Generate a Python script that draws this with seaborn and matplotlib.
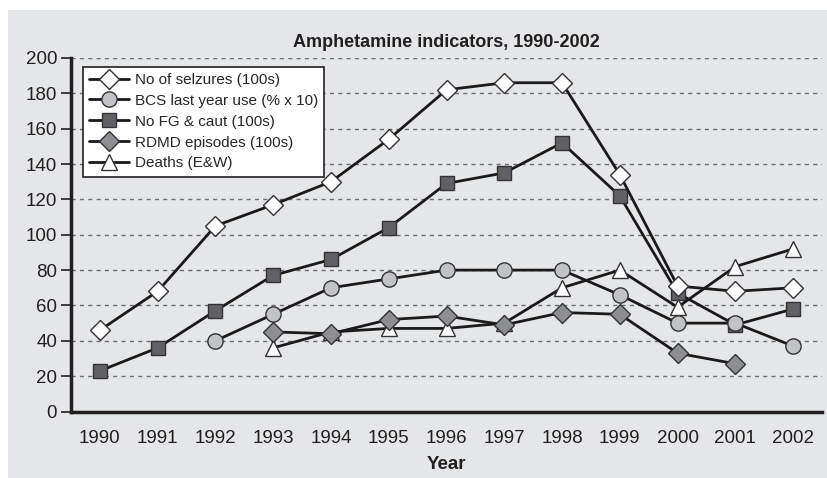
import numpy as np
import pandas as pd
import matplotlib
matplotlib.use("Agg")
import matplotlib.pyplot as plt
import seaborn as sns

years = ["1990", "1991", "1992", "1993", "1994", "1995", "1996",
         "1997", "1998", "1999", "2000", "2001", "2002"]
nan = np.nan
seizures = [46, 68, 105, 117, 130, 154, 182, 186, 186, 134, 71, 68, 70]
bcs = [nan, nan, 40, 55, 70, 75, 80, 80, 80, 66, 50, 50, 37]
fg_caut = [23, 36, 57, 77, 86, 104, 129, 135, 152, 122, 67, 49, 58]
rdmd = [nan, nan, nan, 45, 44, 52, 54, 49, 56, 55, 33, 27, nan]
deaths = [nan, nan, nan, 36, 45, 47, 47, 50, 70, 80, 59, 82, 92]

labels = ["No of selzures (100s)", "BCS last year use (% x 10)",
          "No FG & caut (100s)", "RDMD episodes (100s)", "Deaths (E&W)"]

sns.set_style("white")
plt.rcParams["font.family"] = ["Liberation Sans", "DejaVu Sans"]

bg = "#e5e6e8"
txt = "#231f20"
fig = plt.figure(figsize=(8.28, 4.78), dpi=100, facecolor=bg)
fig.patches.append(plt.Rectangle((0, 0), 8 / 828, 1, transform=fig.transFigure,
                                 facecolor="white", edgecolor="none", zorder=-10))
fig.patches.append(plt.Rectangle((0, 1 - 10 / 478), 1, 10 / 478, transform=fig.transFigure,
                                 facecolor="white", edgecolor="none", zorder=-10))
ax = fig.add_axes([71 / 828, 1 - 411.5 / 478, (822 - 71) / 828, (411.5 - 58) / 478])
ax.set_facecolor(bg)

x = np.arange(len(years))
series = [
    (seizures, "D", "white", 10, 5),
    (bcs, "o", "#c1c3c6", 11, 4),
    (fg_caut, "s", "#606166", 10, 2),
    (rdmd, "D", "#8d8e91", 10, 3),
    (deaths, "^", "white", 11, 2.5),
]
handles = []
for (vals, mk, fc, ms, z), lab in zip(series, labels):
    df = pd.DataFrame({"x": x, "y": vals}).dropna()
    sns.lineplot(data=df, x="x", y="y", ax=ax, color="#1a1a1a", linewidth=2.0,
                 marker=mk, markersize=ms, markerfacecolor=fc,
                 markeredgecolor="#333333", markeredgewidth=1.0, zorder=z)
    h, = ax.plot([], [], color="#1a1a1a", linewidth=2.0, marker=mk, markersize=ms,
                 markerfacecolor=fc, markeredgecolor="#333333", markeredgewidth=1.0)
    handles.append(h)

ax.set_xlim(-0.5, len(years) - 0.5)
ax.set_ylim(0, 200)
ax.set_yticks(np.arange(0, 201, 20))
ax.set_xticks(x)
ax.set_xticklabels(years, fontsize=13.5)
ax.set_xticks(np.arange(-0.5, len(years), 1), minor=True)
ax.tick_params(axis="x", which="major", length=0, pad=13, labelcolor=txt)
ax.tick_params(axis="x", which="minor", length=7, width=1.2, color=txt, direction="out")
ax.tick_params(axis="y", which="major", length=7, width=1.2, color=txt,
               direction="out", labelsize=13.5, labelcolor=txt, pad=3, left=True)
for y in range(20, 201, 20):
    ax.axhline(y, color="#6d6e71", linestyle=(0, (3, 3)), linewidth=1.0, zorder=0.5)

for s in ["top", "right"]:
    ax.spines[s].set_visible(False)
for s in ["left", "bottom"]:
    ax.spines[s].set_linewidth(2.5)
    ax.spines[s].set_color(txt)

ax.set_xlabel("Year", fontsize=13.5, fontweight="bold", color=txt, labelpad=7)
ax.set_ylabel("")
ax.set_title("Amphetamine indicators, 1990-2002", fontsize=13, fontweight="bold",
             color=txt, pad=8)

leg = ax.legend(handles, labels, loc="upper left", bbox_to_anchor=(0.016, 0.975),
                fontsize=11, frameon=True, fancybox=False, framealpha=1,
                edgecolor=txt, facecolor="white", handlelength=2.6,
                handletextpad=0.4, labelspacing=0.45, borderpad=0.4,
                borderaxespad=0)
leg.get_frame().set_linewidth(1.2)
leg.set_zorder(10)

fig.savefig("out.png", dpi=100, facecolor=bg)
